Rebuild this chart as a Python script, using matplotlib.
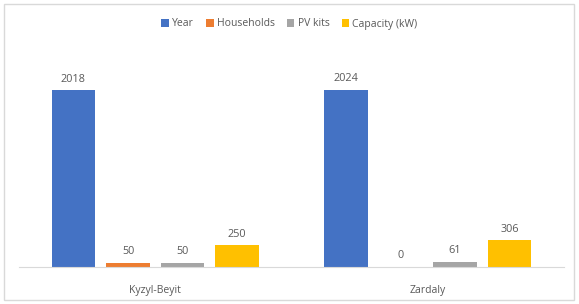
import numpy as np
import matplotlib.pyplot as plt
from matplotlib.patches import Rectangle

sites = ["Kyzyl-Beyit", "Zardaly"]
series = ["Year", "Households", "PV kits", "Capacity (kW)"]
year = [2018, 2024]
households = [50, 0]
pv_kits = [50, 61]
capacity = [250, 306]
colors = ["#4472C4", "#ED7D31", "#A5A5A5", "#FFC000"]

values = [year, households, pv_kits, capacity]
text_col = "#595959"
plt.rcParams['font.family'] = ['Open Sans', 'DejaVu Sans']

fig = plt.figure(figsize=(5.79, 3.04), dpi=100)
fig.patches.append(Rectangle((4 / 579, 4 / 304), 570 / 579, 296 / 304,
                             transform=fig.transFigure, fill=False,
                             edgecolor="#D9D9D9", linewidth=1))
ax = fig.add_axes([19 / 579, 1 - 267 / 304, 545 / 579, 219 / 304])

x = np.arange(len(sites))
step = 0.2
width = 0.161
for i, (name, vals) in enumerate(zip(series, values)):
    pos = x + (i - 1.5) * step
    bars = ax.bar(pos, vals, width, color=colors[i], label=name)
    ax.bar_label(bars, labels=[str(v) for v in vals], padding=4,
                 fontsize=7.8, color=text_col)

ax.set_xlim(-0.5, 1.5)
ax.set_ylim(0, 2500)
ax.set_yticks([])
ax.set_xticks(x)
ax.set_xticklabels(sites, fontsize=7.5, color=text_col)
ax.tick_params(axis="x", length=0, pad=13)
for s in ["top", "right", "left"]:
    ax.spines[s].set_visible(False)
ax.spines["bottom"].set_color("#D9D9D9")

fig.legend(loc="center", bbox_to_anchor=(0.5, 1 - 24 / 304), ncol=4,
           frameon=False, fontsize=7.5, handlelength=0.7, handleheight=0.7,
           columnspacing=1.2, handletextpad=0.3, labelcolor=text_col)

fig.savefig("out.png", dpi=100)
